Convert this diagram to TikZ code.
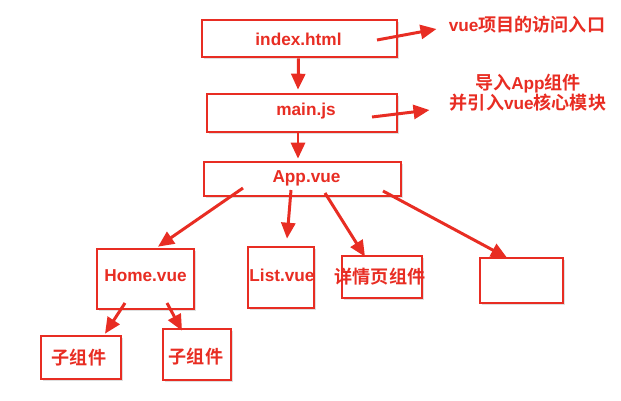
\documentclass[tikz,border=0pt]{standalone}
\usepackage{fontspec}
\setmainfont{Liberation Sans}
\newfontfamily\cjk{Noto Sans CJK SC}[BoldFont={* Bold}]
\usetikzlibrary{arrows.meta,shadows}

\definecolor{vred}{RGB}{232,45,35}
\tikzset{
  box/.style={draw=vred, line width=1.5pt, fill=white, inner sep=0pt,
    drop shadow={opacity=0.25, shadow xshift=1pt, shadow yshift=-1pt}},
  lbl/.style={text=vred, inner sep=0pt, font=\bfseries\fontsize{9.8}{11.5}\selectfont},
  zh/.style={text=vred, inner sep=0pt, font=\cjk\bfseries\fontsize{10.3}{12}\selectfont},
  arr/.style={draw=vred, line width=1.7pt, -{Triangle[length=3.2mm,width=2.8mm]}}
}
\newcommand{\zhb}[1]{{\cjk\bfseries\fontsize{10.3}{12}\selectfont #1}}

\begin{document}
\begin{tikzpicture}[x=0.02cm, y=-0.02cm]
  \useasboundingbox (0,0) rectangle (621,400);
  % files
  \node[box, minimum width=3.9cm, minimum height=0.74cm] (idx) at (299.5,38.5) {};
  \node[lbl] at ([shift={(-1,1)}]idx.center) {index.html};
  \node[box, minimum width=3.8cm, minimum height=0.76cm] (main) at (302,113) {};
  \node[lbl] at ([shift={(4,-2)}]main.center) {main.js};
  \node[box, minimum width=3.94cm, minimum height=0.68cm] (app) at (302.5,179) {};
  \node[lbl] at ([shift={(4,-1)}]app.center) {App.vue};
  % components
  \node[box, minimum width=1.94cm, minimum height=1.2cm] (home) at (145.5,279) {};
  \node[lbl] at ([shift={(0,-3)}]home.center) {Home.vue};
  \node[box, minimum width=1.32cm, minimum height=1.22cm] (list) at (281,277.5) {};
  \node[lbl] at ([shift={(1,-2)}]list.center) {List.vue};
  \node[box, minimum width=1.6cm, minimum height=0.84cm] (detail) at (382,277) {};
  \node[zh] at ([shift={(-2,0)}]detail.center) {详情页组件};
  \node[box, minimum width=1.66cm, minimum height=0.9cm] (empty) at (521.5,280.5) {};
  \node[box, minimum width=1.6cm, minimum height=0.86cm] (subA) at (81,357.5) {};
  \node[zh] at ([shift={(-2,0)}]subA.center) {子组件};
  \node[box, minimum width=1.36cm, minimum height=1.02cm] (subB) at (197,354.5) {};
  \node[zh] at ([shift={(-1,2)}]subB.center) {子组件};
  % notes
  \node[lbl] (note1) at (527,25) {vue\zhb{项目的访问入口}};
  \node[lbl, align=center] (note2) at (528,93) {\zhb{导入}App\zhb{组件}\\\zhb{并引入}vue\zhb{核心模块}};
  % arrows
  \draw[arr] ([shift={(77.5,1.5)}]idx.center) -- ([shift={(-12,4)}]note1.west);
  \draw[arr] ([shift={(70,4)}]main.center) -- ([shift={(-20,17)}]note2.west);
  \draw[arr] ([shift={(-1,0)}]idx.south) -- ([shift={(-4,-3)}]main.north);
  \draw[arr] ([shift={(-4,0)}]main.south) -- ([shift={(-4.5,-2)}]app.north);
  \draw[arr] ([shift={(-59.5,9)}]app.center) -- ([shift={(12.5,-1)}]home.north);
  \draw[arr] ([shift={(-11.5,11)}]app.center) -- ([shift={(6,-7)}]list.north);
  \draw[arr] ([shift={(22.5,14)}]app.center) -- ([shift={(-17,2)}]detail.north);
  \draw[arr] ([shift={(80.5,12)}]app.center) -- ([shift={(-14.5,1)}]empty.north);
  \draw[arr] ([shift={(-20.5,24)}]home.center) -- ([shift={(24,-1)}]subA.north);
  \draw[arr] ([shift={(21.5,24)}]home.center) -- ([shift={(-15,3)}]subB.north);
\end{tikzpicture}
\end{document}
